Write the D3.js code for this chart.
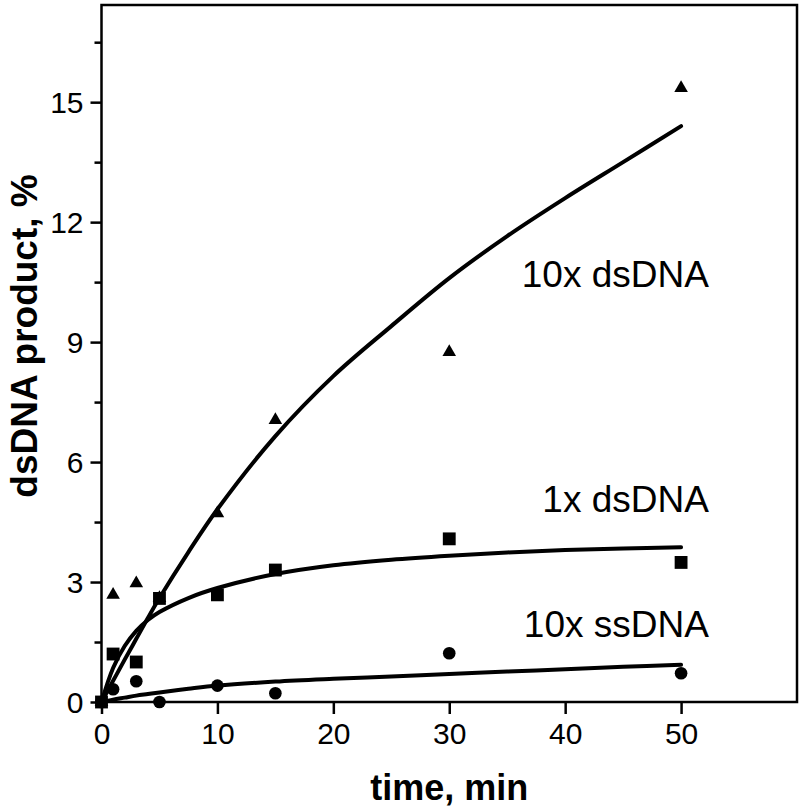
<!DOCTYPE html>
<html>
<head>
<meta charset="utf-8">
<script src="https://cdn.jsdelivr.net/npm/d3@7"></script>
<style>
  body { margin: 0; background: #fff; }
  svg { display: block; }
  text { font-family: "Liberation Sans", Arial, sans-serif; fill: #000; }
</style>
</head>
<body>
<svg id="chart" width="800" height="811"></svg>
<script>
// measured time points (min)
const times = [0, 1, 3, 5, 10, 15, 30, 50];

// dsDNA product (%), one array per condition
const ds10x = [0, 2.68, 2.97, 2.6, 4.72, 7.05, 8.75, 15.35];
const ds1x = [0, 1.2, 1.0, 2.59, 2.68, 3.3, 4.08, 3.49];
const ss10x = [0, 0.32, 0.52, 0, 0.41, 0.22, 1.22, 0.72];

// fitted curves, sampled by eye from the drawn lines
const fitTimes = [0, 1, 2, 3, 4, 5, 7.5, 10, 15, 20, 25, 30, 35, 40, 45, 50];
const fit10xds = [0, 0.53, 1.06, 1.58, 2.1, 2.6, 3.75, 4.82, 6.65, 8.15, 9.4, 10.6, 11.65, 12.6, 13.5, 14.4];
const fit1xds = [0, 0.85, 1.4, 1.78, 2.05, 2.25, 2.6, 2.85, 3.2, 3.42, 3.56, 3.66, 3.74, 3.8, 3.84, 3.87];
const fit10xss = [0, 0.06, 0.11, 0.16, 0.2, 0.24, 0.33, 0.41, 0.51, 0.58, 0.64, 0.7, 0.76, 0.82, 0.88, 0.93];

// axis ticks
const xTicks = [0, 10, 20, 30, 40, 50];
const yTicks = [0, 3, 6, 9, 12, 15];
const yMinorTicks = [1.5, 4.5, 7.5, 10.5, 13.5, 16.5];

const seriesNames = ['10x dsDNA', '1x dsDNA', '10x ssDNA'];

var svg = d3.select('#chart');

var x = d3.scaleLinear().domain([0, 60]).range([101.5, 797]);
var y = d3.scaleLinear().domain([0, 17.43]).range([702, 5]);

// frame around the plot area
svg.append('rect')
  .attr('x', x(0))
  .attr('y', y(17.43))
  .attr('width', x(60) - x(0))
  .attr('height', y(0) - y(17.43))
  .attr('fill', 'none')
  .attr('stroke', '#000')
  .attr('stroke-width', 2.5);

// x axis
var xAxis = svg.append('g')
  .attr('transform', 'translate(0,' + y(0) + ')')
  .call(d3.axisBottom(x).tickValues(xTicks).tickSize(12).tickPadding(9).tickSizeOuter(0));

// y axis, major + minor ticks
var yAxis = svg.append('g')
  .attr('transform', 'translate(' + x(0) + ',0)')
  .call(d3.axisLeft(y).tickValues(yTicks).tickSize(11).tickPadding(7).tickSizeOuter(0));

svg.append('g')
  .attr('transform', 'translate(' + x(0) + ',0)')
  .call(d3.axisLeft(y).tickValues(yMinorTicks).tickSize(7).tickFormat('').tickSizeOuter(0));

svg.selectAll('.domain').remove();
svg.selectAll('.tick line').attr('stroke', '#000').attr('stroke-width', 2.5);
xAxis.selectAll('.tick text').attr('font-size', 30).attr('fill', '#000');
yAxis.selectAll('.tick text').attr('font-size', 30).attr('fill', '#000').attr('dy', '0.36em');

// axis titles
svg.append('text')
  .attr('x', x(30))
  .attr('y', 800)
  .attr('text-anchor', 'middle')
  .attr('font-size', 36)
  .attr('font-weight', 'bold')
  .text('time, min');

svg.append('text')
  .attr('transform', 'translate(37,336) rotate(-90)')
  .attr('text-anchor', 'middle')
  .attr('font-size', 37)
  .attr('font-weight', 'bold')
  .text('dsDNA product, %');

// fitted lines
var line = d3.line()
  .x(function (d) { return x(d[0]); })
  .y(function (d) { return y(d[1]); })
  .curve(d3.curveCatmullRom.alpha(0.5));

[fit10xds, fit1xds, fit10xss].forEach(function (fit) {
  svg.append('path')
    .datum(d3.zip(fitTimes, fit))
    .attr('d', line)
    .attr('fill', 'none')
    .attr('stroke', '#000')
    .attr('stroke-width', 4)
    .attr('stroke-linecap', 'round');
});

// data points
var markers = [
  { values: ds10x, symbol: d3.symbolTriangle, size: 80 },
  { values: ss10x, symbol: d3.symbolCircle, size: 125 },
  { values: ds1x, symbol: d3.symbolSquare, size: 165 }
];

markers.forEach(function (m) {
  svg.append('g')
    .selectAll('path')
    .data(d3.zip(times, m.values))
    .join('path')
    .attr('transform', function (d) { return 'translate(' + x(d[0]) + ',' + y(d[1]) + ')'; })
    .attr('d', d3.symbol().type(m.symbol).size(m.size))
    .attr('fill', '#000');
});

// series labels, right-aligned beside the curve ends
var labelPos = [[52.4, 10.37], [52.4, 4.75], [52.4, 1.63]];
seriesNames.forEach(function (name, i) {
  svg.append('text')
    .attr('x', x(labelPos[i][0]))
    .attr('y', y(labelPos[i][1]))
    .attr('text-anchor', 'end')
    .attr('font-size', 37)
    .text(name);
});
</script>
</body>
</html>
